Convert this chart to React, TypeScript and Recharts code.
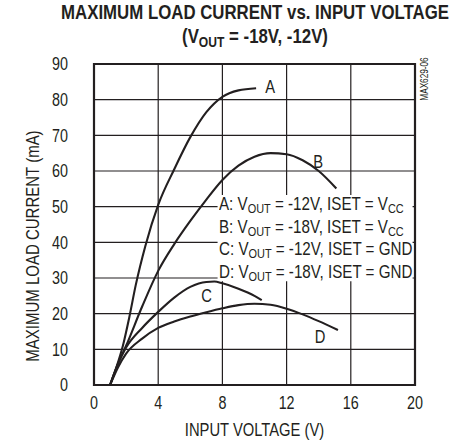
import { LineChart, Line, XAxis, YAxis, CartesianGrid, ReferenceArea, ReferenceDot } from 'recharts'

const X_TICKS = [0, 4, 8, 12, 16, 20]
const Y_TICKS = [0, 10, 20, 30, 40, 50, 60, 70, 80, 90]

// input voltage (V) vs max load current (mA)
const CURVE_A = [
  { v: 1.0, i: 0 }, { v: 1.4, i: 5 }, { v: 1.8, i: 11 }, { v: 2.2, i: 19 },
  { v: 2.6, i: 28 }, { v: 3.2, i: 39 }, { v: 4, i: 50.5 }, { v: 5, i: 60.5 },
  { v: 6, i: 69.5 }, { v: 7, i: 76.5 }, { v: 8, i: 80.8 }, { v: 9, i: 82.6 }, { v: 10.1, i: 83.2 },
]
const CURVE_B = [
  { v: 1.0, i: 0 }, { v: 1.5, i: 6 }, { v: 2, i: 11 }, { v: 3, i: 22 }, { v: 4, i: 32 },
  { v: 5, i: 39.5 }, { v: 6, i: 46 }, { v: 7, i: 52 }, { v: 8, i: 57.5 }, { v: 9, i: 61.5 },
  { v: 10, i: 64 }, { v: 11, i: 65 }, { v: 12, i: 64.7 }, { v: 13, i: 63 }, { v: 14, i: 60 },
  { v: 15.1, i: 55.1 },
]
const CURVE_C = [
  { v: 1.0, i: 0 }, { v: 1.5, i: 6 }, { v: 2, i: 10.5 }, { v: 3, i: 16 }, { v: 4, i: 20.5 },
  { v: 5, i: 24.5 }, { v: 6, i: 27.5 }, { v: 7, i: 28.9 }, { v: 7.5, i: 29 }, { v: 8, i: 28.5 },
  { v: 9, i: 27 }, { v: 10, i: 25 }, { v: 10.45, i: 23.8 },
]
const CURVE_D = [
  { v: 1.0, i: 0 }, { v: 1.5, i: 5 }, { v: 2, i: 8.8 }, { v: 3, i: 13 }, { v: 4, i: 16 },
  { v: 5, i: 17.8 }, { v: 6, i: 19.2 }, { v: 7, i: 20.4 }, { v: 8, i: 21.5 }, { v: 9, i: 22.4 },
  { v: 10, i: 22.8 }, { v: 11, i: 22.5 }, { v: 12, i: 21.4 }, { v: 13, i: 19.8 }, { v: 14, i: 17.9 },
  { v: 15.2, i: 15.4 },
]

const SERIES = [
  { name: 'A', data: CURVE_A },
  { name: 'B', data: CURVE_B },
  { name: 'C', data: CURVE_C },
  { name: 'D', data: CURVE_D },
]

const LEGEND_ROWS = [
  { key: 'A', vout: '-12V', iset: 'V', isetSub: 'CC' },
  { key: 'B', vout: '-18V', iset: 'V', isetSub: 'CC' },
  { key: 'C', vout: '-12V', iset: 'GND', isetSub: '' },
  { key: 'D', vout: '-18V', iset: 'GND', isetSub: '' },
]

// no narrow font installed, so squeeze Liberation Sans horizontally
const FONT = "'Liberation Sans', Arial, sans-serif"
const SQUEEZE = 0.82
const INK = '#231f20'

const sub: React.CSSProperties = { fontSize: '0.72em', verticalAlign: '-0.25em', lineHeight: 0 }

function NarrowTick(props: any) {
  const { x, y, payload, textAnchor, dy } = props
  return (
    <text
      transform={`translate(${x},${y}) scale(${SQUEEZE},1)`}
      textAnchor={textAnchor}
      dy={dy}
      fill={INK}
      fontSize={17.5}
      fontFamily={FONT}
    >
      {payload.value}
    </text>
  )
}

function CurveTag(props: any) {
  const { viewBox, value } = props
  const cx = viewBox.x + (viewBox.width ?? 0) / 2
  const cy = viewBox.y + (viewBox.height ?? 0) / 2
  return (
    <text transform={`translate(${cx},${cy}) scale(${SQUEEZE},1)`} textAnchor="middle" dy="0.355em" fill={INK} fontSize={18} fontFamily={FONT}>
      {value}
    </text>
  )
}

export default function App() {
  return (
    <div style={{ position: 'absolute', left: 0, top: 0, width: 465, height: 446, background: '#fff', fontFamily: FONT, color: INK, overflow: 'hidden' }}>
      <LineChart width={465} height={446} data={CURVE_A} margin={{ top: 64, right: 50, bottom: 31, left: 34 }}>
        <CartesianGrid stroke={INK} strokeWidth={1.2} verticalValues={X_TICKS} horizontalValues={Y_TICKS} />
        <XAxis
          dataKey="v"
          type="number"
          domain={[0, 20]}
          ticks={X_TICKS}
          height={30}
          tickLine={false}
          tickSize={10}
          tickMargin={2}
          axisLine={false}
          tick={<NarrowTick dy="0.71em" />}
        />
        <YAxis
          type="number"
          domain={[0, 90]}
          ticks={Y_TICKS}
          width={60}
          tickLine={false}
          tickSize={24}
          tickMargin={2}
          axisLine={false}
          tick={<NarrowTick dy="0.355em" />}
        />
        <ReferenceArea x1={7.7} x2={19.85} y1={29.1} y2={53.3} fill="#fff" fillOpacity={1} stroke="none" ifOverflow="visible" />
        <ReferenceArea x1={0} x2={20} y1={0} y2={90} fill="none" stroke={INK} strokeWidth={2.2} ifOverflow="visible" />
        {SERIES.map((s) => (
          <Line
            key={s.name}
            data={s.data}
            dataKey="i"
            type="monotone"
            stroke={INK}
            strokeWidth={2.1}
            dot={false}
            activeDot={false}
            isAnimationActive={false}
          />
        ))}
        <ReferenceDot x={10.97} y={83.6} r={0} label={<CurveTag value="A" />} />
        <ReferenceDot x={13.96} y={62.6} r={0} label={<CurveTag value="B" />} />
        <ReferenceDot x={7.02} y={25.2} r={0} label={<CurveTag value="C" />} />
        <ReferenceDot x={14.08} y={13.5} r={0} label={<CurveTag value="D" />} />
      </LineChart>

      {/* title */}
      <div style={{ position: 'absolute', left: 0, width: 510, top: 0, textAlign: 'center', fontWeight: 700, fontSize: 20.5, lineHeight: '24px', transform: `scaleX(${SQUEEZE})`, transformOrigin: '255px 0', whiteSpace: 'nowrap' }}>
        <div>MAXIMUM LOAD CURRENT vs. INPUT VOLTAGE</div>
        <div>(V<span style={sub}>OUT</span> = -18V, -12V)</div>
      </div>

      {/* legend block */}
      <div style={{ position: 'absolute', left: 219, top: 193, fontSize: 18.5, lineHeight: '22.7px', whiteSpace: 'nowrap', transform: `scaleX(${SQUEEZE})`, transformOrigin: '0 0' }}>
        {LEGEND_ROWS.map((r) => (
          <div key={r.key}>
            {r.key}: V<span style={sub}>OUT</span> = {r.vout}, ISET = {r.iset}
            {r.isetSub && <span style={sub}>{r.isetSub}</span>}
          </div>
        ))}
      </div>

      {/* axis titles */}
      <div style={{ position: 'absolute', left: 94, width: 321, top: 420, textAlign: 'center', fontSize: 18, lineHeight: '20px', transform: `scaleX(${SQUEEZE})`, transformOrigin: '160.5px 0' }}>
        INPUT VOLTAGE (V)
      </div>
      <div style={{ position: 'absolute', left: 33, top: 246, width: 0, height: 0 }}>
        <div style={{ position: 'absolute', left: -150, top: -10, width: 300, textAlign: 'center', fontSize: 18.3, lineHeight: '20px', transform: `rotate(-90deg) scaleX(${SQUEEZE})`, whiteSpace: 'nowrap' }}>
          MAXIMUM LOAD CURRENT (mA)
        </div>
      </div>
      <div style={{ position: 'absolute', left: 425, top: 79, width: 0, height: 0 }}>
        <div style={{ position: 'absolute', left: -40, top: -6, width: 80, textAlign: 'center', fontSize: 10, lineHeight: '12px', transform: `rotate(-90deg) scaleX(${SQUEEZE})`, whiteSpace: 'nowrap' }}>
          MAX629-06
        </div>
      </div>
    </div>
  )
}
